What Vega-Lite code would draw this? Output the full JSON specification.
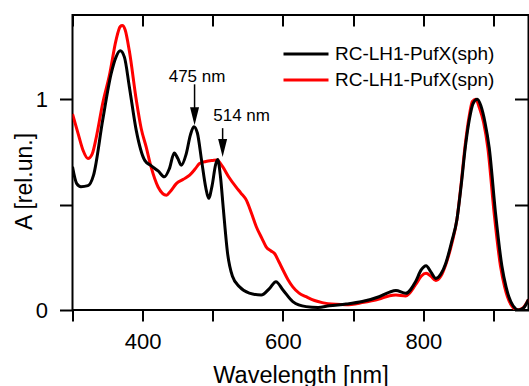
{
  "$schema": "https://vega.github.io/schema/vega-lite/v6.json",
  "width": 456,
  "height": 295,
  "autosize": {"type": "none"},
  "padding": {"left": 72.5, "top": 15, "right": 0.5, "bottom": 76},
  "background": "white",
  "config": {
    "view": {"stroke": "black", "strokeWidth": 2},
    "font": "Liberation Sans"
  },
  "datasets": {
    "spectra": [
      {"series": "RC-LH1-PufX(spn)", "wl": 300, "A": 0.93},
      {"series": "RC-LH1-PufX(spn)", "wl": 308, "A": 0.837},
      {"series": "RC-LH1-PufX(spn)", "wl": 315, "A": 0.758},
      {"series": "RC-LH1-PufX(spn)", "wl": 322, "A": 0.719},
      {"series": "RC-LH1-PufX(spn)", "wl": 328, "A": 0.74},
      {"series": "RC-LH1-PufX(spn)", "wl": 334, "A": 0.821},
      {"series": "RC-LH1-PufX(spn)", "wl": 343, "A": 0.98},
      {"series": "RC-LH1-PufX(spn)", "wl": 353, "A": 1.12},
      {"series": "RC-LH1-PufX(spn)", "wl": 362, "A": 1.28},
      {"series": "RC-LH1-PufX(spn)", "wl": 368, "A": 1.345},
      {"series": "RC-LH1-PufX(spn)", "wl": 371, "A": 1.35},
      {"series": "RC-LH1-PufX(spn)", "wl": 375, "A": 1.33},
      {"series": "RC-LH1-PufX(spn)", "wl": 381, "A": 1.23},
      {"series": "RC-LH1-PufX(spn)", "wl": 391, "A": 0.995},
      {"series": "RC-LH1-PufX(spn)", "wl": 398, "A": 0.86},
      {"series": "RC-LH1-PufX(spn)", "wl": 405, "A": 0.774},
      {"series": "RC-LH1-PufX(spn)", "wl": 412, "A": 0.679},
      {"series": "RC-LH1-PufX(spn)", "wl": 422, "A": 0.584},
      {"series": "RC-LH1-PufX(spn)", "wl": 434, "A": 0.545},
      {"series": "RC-LH1-PufX(spn)", "wl": 440, "A": 0.565},
      {"series": "RC-LH1-PufX(spn)", "wl": 448, "A": 0.6},
      {"series": "RC-LH1-PufX(spn)", "wl": 458, "A": 0.62},
      {"series": "RC-LH1-PufX(spn)", "wl": 467, "A": 0.64},
      {"series": "RC-LH1-PufX(spn)", "wl": 475, "A": 0.67},
      {"series": "RC-LH1-PufX(spn)", "wl": 481, "A": 0.695},
      {"series": "RC-LH1-PufX(spn)", "wl": 490, "A": 0.705},
      {"series": "RC-LH1-PufX(spn)", "wl": 500, "A": 0.71},
      {"series": "RC-LH1-PufX(spn)", "wl": 506, "A": 0.712},
      {"series": "RC-LH1-PufX(spn)", "wl": 514, "A": 0.68},
      {"series": "RC-LH1-PufX(spn)", "wl": 523, "A": 0.63},
      {"series": "RC-LH1-PufX(spn)", "wl": 533, "A": 0.584},
      {"series": "RC-LH1-PufX(spn)", "wl": 540, "A": 0.555},
      {"series": "RC-LH1-PufX(spn)", "wl": 548, "A": 0.52},
      {"series": "RC-LH1-PufX(spn)", "wl": 555, "A": 0.46},
      {"series": "RC-LH1-PufX(spn)", "wl": 562, "A": 0.395},
      {"series": "RC-LH1-PufX(spn)", "wl": 570, "A": 0.34},
      {"series": "RC-LH1-PufX(spn)", "wl": 576, "A": 0.3},
      {"series": "RC-LH1-PufX(spn)", "wl": 583, "A": 0.28},
      {"series": "RC-LH1-PufX(spn)", "wl": 588, "A": 0.268},
      {"series": "RC-LH1-PufX(spn)", "wl": 594, "A": 0.23},
      {"series": "RC-LH1-PufX(spn)", "wl": 600, "A": 0.19},
      {"series": "RC-LH1-PufX(spn)", "wl": 607, "A": 0.145},
      {"series": "RC-LH1-PufX(spn)", "wl": 614, "A": 0.11},
      {"series": "RC-LH1-PufX(spn)", "wl": 623, "A": 0.08},
      {"series": "RC-LH1-PufX(spn)", "wl": 633, "A": 0.063},
      {"series": "RC-LH1-PufX(spn)", "wl": 645, "A": 0.045},
      {"series": "RC-LH1-PufX(spn)", "wl": 656, "A": 0.035},
      {"series": "RC-LH1-PufX(spn)", "wl": 675, "A": 0.027},
      {"series": "RC-LH1-PufX(spn)", "wl": 690, "A": 0.025},
      {"series": "RC-LH1-PufX(spn)", "wl": 713, "A": 0.035},
      {"series": "RC-LH1-PufX(spn)", "wl": 737, "A": 0.052},
      {"series": "RC-LH1-PufX(spn)", "wl": 752, "A": 0.068},
      {"series": "RC-LH1-PufX(spn)", "wl": 761, "A": 0.071},
      {"series": "RC-LH1-PufX(spn)", "wl": 775, "A": 0.067},
      {"series": "RC-LH1-PufX(spn)", "wl": 789, "A": 0.12},
      {"series": "RC-LH1-PufX(spn)", "wl": 797, "A": 0.16},
      {"series": "RC-LH1-PufX(spn)", "wl": 804, "A": 0.174},
      {"series": "RC-LH1-PufX(spn)", "wl": 811, "A": 0.16},
      {"series": "RC-LH1-PufX(spn)", "wl": 818, "A": 0.14},
      {"series": "RC-LH1-PufX(spn)", "wl": 825, "A": 0.16},
      {"series": "RC-LH1-PufX(spn)", "wl": 832, "A": 0.215},
      {"series": "RC-LH1-PufX(spn)", "wl": 841, "A": 0.32},
      {"series": "RC-LH1-PufX(spn)", "wl": 848, "A": 0.43},
      {"series": "RC-LH1-PufX(spn)", "wl": 854, "A": 0.6},
      {"series": "RC-LH1-PufX(spn)", "wl": 860, "A": 0.79},
      {"series": "RC-LH1-PufX(spn)", "wl": 866, "A": 0.93},
      {"series": "RC-LH1-PufX(spn)", "wl": 870, "A": 0.99},
      {"series": "RC-LH1-PufX(spn)", "wl": 875, "A": 1.0},
      {"series": "RC-LH1-PufX(spn)", "wl": 880, "A": 0.96},
      {"series": "RC-LH1-PufX(spn)", "wl": 886, "A": 0.89},
      {"series": "RC-LH1-PufX(spn)", "wl": 892, "A": 0.77},
      {"series": "RC-LH1-PufX(spn)", "wl": 901, "A": 0.46},
      {"series": "RC-LH1-PufX(spn)", "wl": 910, "A": 0.21},
      {"series": "RC-LH1-PufX(spn)", "wl": 916, "A": 0.11},
      {"series": "RC-LH1-PufX(spn)", "wl": 920, "A": 0.063},
      {"series": "RC-LH1-PufX(spn)", "wl": 926, "A": 0.02},
      {"series": "RC-LH1-PufX(spn)", "wl": 934, "A": 0.0},
      {"series": "RC-LH1-PufX(spn)", "wl": 942, "A": 0.01},
      {"series": "RC-LH1-PufX(spn)", "wl": 950, "A": 0.05},
      {"series": "RC-LH1-PufX(sph)", "wl": 300, "A": 0.68},
      {"series": "RC-LH1-PufX(sph)", "wl": 306, "A": 0.6},
      {"series": "RC-LH1-PufX(sph)", "wl": 312, "A": 0.585},
      {"series": "RC-LH1-PufX(sph)", "wl": 322, "A": 0.59},
      {"series": "RC-LH1-PufX(sph)", "wl": 330, "A": 0.64},
      {"series": "RC-LH1-PufX(sph)", "wl": 343, "A": 0.9},
      {"series": "RC-LH1-PufX(sph)", "wl": 355, "A": 1.12},
      {"series": "RC-LH1-PufX(sph)", "wl": 362, "A": 1.2},
      {"series": "RC-LH1-PufX(sph)", "wl": 368, "A": 1.23},
      {"series": "RC-LH1-PufX(sph)", "wl": 374, "A": 1.2},
      {"series": "RC-LH1-PufX(sph)", "wl": 381, "A": 1.06},
      {"series": "RC-LH1-PufX(sph)", "wl": 391, "A": 0.85},
      {"series": "RC-LH1-PufX(sph)", "wl": 403, "A": 0.71},
      {"series": "RC-LH1-PufX(sph)", "wl": 412, "A": 0.685},
      {"series": "RC-LH1-PufX(sph)", "wl": 422, "A": 0.66},
      {"series": "RC-LH1-PufX(sph)", "wl": 431, "A": 0.632},
      {"series": "RC-LH1-PufX(sph)", "wl": 438, "A": 0.67},
      {"series": "RC-LH1-PufX(sph)", "wl": 445, "A": 0.745},
      {"series": "RC-LH1-PufX(sph)", "wl": 450, "A": 0.72},
      {"series": "RC-LH1-PufX(sph)", "wl": 455, "A": 0.687},
      {"series": "RC-LH1-PufX(sph)", "wl": 462, "A": 0.74},
      {"series": "RC-LH1-PufX(sph)", "wl": 468, "A": 0.83},
      {"series": "RC-LH1-PufX(sph)", "wl": 473, "A": 0.87},
      {"series": "RC-LH1-PufX(sph)", "wl": 478, "A": 0.84},
      {"series": "RC-LH1-PufX(sph)", "wl": 484, "A": 0.71},
      {"series": "RC-LH1-PufX(sph)", "wl": 490, "A": 0.58},
      {"series": "RC-LH1-PufX(sph)", "wl": 494, "A": 0.53},
      {"series": "RC-LH1-PufX(sph)", "wl": 499, "A": 0.59},
      {"series": "RC-LH1-PufX(sph)", "wl": 504, "A": 0.69},
      {"series": "RC-LH1-PufX(sph)", "wl": 507, "A": 0.714},
      {"series": "RC-LH1-PufX(sph)", "wl": 511, "A": 0.63},
      {"series": "RC-LH1-PufX(sph)", "wl": 515, "A": 0.48},
      {"series": "RC-LH1-PufX(sph)", "wl": 521, "A": 0.27},
      {"series": "RC-LH1-PufX(sph)", "wl": 528, "A": 0.16},
      {"series": "RC-LH1-PufX(sph)", "wl": 538, "A": 0.11},
      {"series": "RC-LH1-PufX(sph)", "wl": 552, "A": 0.08},
      {"series": "RC-LH1-PufX(sph)", "wl": 569, "A": 0.071},
      {"series": "RC-LH1-PufX(sph)", "wl": 581, "A": 0.103},
      {"series": "RC-LH1-PufX(sph)", "wl": 590, "A": 0.134},
      {"series": "RC-LH1-PufX(sph)", "wl": 600, "A": 0.095},
      {"series": "RC-LH1-PufX(sph)", "wl": 614, "A": 0.04},
      {"series": "RC-LH1-PufX(sph)", "wl": 633, "A": 0.016},
      {"series": "RC-LH1-PufX(sph)", "wl": 650, "A": 0.012},
      {"series": "RC-LH1-PufX(sph)", "wl": 666, "A": 0.02},
      {"series": "RC-LH1-PufX(sph)", "wl": 690, "A": 0.028},
      {"series": "RC-LH1-PufX(sph)", "wl": 713, "A": 0.04},
      {"series": "RC-LH1-PufX(sph)", "wl": 737, "A": 0.063},
      {"series": "RC-LH1-PufX(sph)", "wl": 752, "A": 0.085},
      {"series": "RC-LH1-PufX(sph)", "wl": 761, "A": 0.092},
      {"series": "RC-LH1-PufX(sph)", "wl": 775, "A": 0.079},
      {"series": "RC-LH1-PufX(sph)", "wl": 789, "A": 0.134},
      {"series": "RC-LH1-PufX(sph)", "wl": 797, "A": 0.19},
      {"series": "RC-LH1-PufX(sph)", "wl": 804, "A": 0.21},
      {"series": "RC-LH1-PufX(sph)", "wl": 811, "A": 0.18},
      {"series": "RC-LH1-PufX(sph)", "wl": 818, "A": 0.15},
      {"series": "RC-LH1-PufX(sph)", "wl": 825, "A": 0.17},
      {"series": "RC-LH1-PufX(sph)", "wl": 832, "A": 0.221},
      {"series": "RC-LH1-PufX(sph)", "wl": 841, "A": 0.33},
      {"series": "RC-LH1-PufX(sph)", "wl": 848, "A": 0.43},
      {"series": "RC-LH1-PufX(sph)", "wl": 854, "A": 0.59},
      {"series": "RC-LH1-PufX(sph)", "wl": 860, "A": 0.774},
      {"series": "RC-LH1-PufX(sph)", "wl": 866, "A": 0.91},
      {"series": "RC-LH1-PufX(sph)", "wl": 871, "A": 0.98},
      {"series": "RC-LH1-PufX(sph)", "wl": 877, "A": 1.0},
      {"series": "RC-LH1-PufX(sph)", "wl": 882, "A": 0.97},
      {"series": "RC-LH1-PufX(sph)", "wl": 888, "A": 0.89},
      {"series": "RC-LH1-PufX(sph)", "wl": 894, "A": 0.77},
      {"series": "RC-LH1-PufX(sph)", "wl": 903, "A": 0.46},
      {"series": "RC-LH1-PufX(sph)", "wl": 912, "A": 0.21},
      {"series": "RC-LH1-PufX(sph)", "wl": 918, "A": 0.11},
      {"series": "RC-LH1-PufX(sph)", "wl": 922, "A": 0.063},
      {"series": "RC-LH1-PufX(sph)", "wl": 928, "A": 0.02},
      {"series": "RC-LH1-PufX(sph)", "wl": 936, "A": 0.0},
      {"series": "RC-LH1-PufX(sph)", "wl": 943, "A": 0.01},
      {"series": "RC-LH1-PufX(sph)", "wl": 950, "A": 0.05}
    ],
    "arrows": [
      {"label": "475 nm", "wl": 474, "from": 1.071, "to": 0.9, "head": 0.919},
      {"label": "514 nm", "wl": 514, "from": 0.863, "to": 0.79, "head": 0.769}
    ],
    "labels": [
      {"label": "475 nm", "wl": 477.5, "A": 1.082},
      {"label": "514 nm", "wl": 541, "A": 0.897}
    ]
  },
  "layer": [
    {
      "data": {"name": "spectra"},
      "transform": [{"filter": "datum.series == 'RC-LH1-PufX(spn)'"}],
      "mark": {"type": "line", "strokeWidth": 3, "interpolate": "monotone", "clip": true},
      "encoding": {
        "x": {
          "field": "wl", "type": "quantitative",
          "scale": {"domain": [300, 950], "nice": false, "zero": false},
          "axis": {
            "orient": "top",
            "values": [300, 400, 500, 600, 700, 800, 900],
            "tickSize": -11,
            "labels": false,
            "title": null,
            "tickColor": "black",
            "tickWidth": 2,
            "domain": false,
            "grid": false
          }
        },
        "y": {
          "field": "A", "type": "quantitative",
          "scale": {"domain": [0, 1.4], "nice": false},
          "axis": {
            "orient": "right",
            "values": [0, 0.5, 1],
            "tickSize": -14,
            "labels": false,
            "title": null,
            "tickColor": "black",
            "tickWidth": 2,
            "domain": false,
            "grid": false
          }
        },
        "color": {
          "field": "series", "type": "nominal",
          "scale": {"domain": ["RC-LH1-PufX(sph)", "RC-LH1-PufX(spn)"], "range": ["#000000", "#ff0000"]},
          "legend": {
            "orient": "none",
            "legendX": 224,
            "legendY": 29.5,
            "title": null,
            "symbolType": "M-3,0H3",
            "symbolSize": 225,
            "symbolStrokeWidth": 3,
            "labelFontSize": 19,
            "labelFont": "Liberation Sans",
            "labelColor": "black",
            "labelOffset": 19.5,
            "rowPadding": 6,
            "padding": 0
          }
        }
      }
    },
    {
      "data": {"name": "spectra"},
      "transform": [{"filter": "datum.series == 'RC-LH1-PufX(sph)'"}],
      "mark": {"type": "line", "strokeWidth": 3, "interpolate": "monotone", "clip": true},
      "encoding": {
        "x": {
          "field": "wl", "type": "quantitative",
          "scale": {"domain": [300, 950], "nice": false, "zero": false},
          "axis": {
            "orient": "bottom",
            "values": [300, 400, 500, 600, 700, 800, 900],
            "labelExpr": "datum.value % 200 == 0 ? format(datum.value, 'd') : ''",
            "tickSize": 11,
            "tickColor": "black",
            "tickWidth": 2,
            "domain": false,
            "grid": false,
            "labelFont": "Liberation Sans",
            "labelColor": "black",
            "labelFontSize": 22,
            "labelPadding": 10,
            "title": "Wavelength [nm]",
            "titleFont": "Liberation Sans",
            "titleFontWeight": "normal",
            "titleColor": "black",
            "titleFontSize": 23.5,
            "titleY": 72,
            "titleBaseline": "alphabetic"
          }
        },
        "y": {
          "field": "A", "type": "quantitative",
          "scale": {"domain": [0, 1.4], "nice": false},
          "axis": {
            "orient": "left",
            "values": [0, 0.5, 1],
            "labelExpr": "datum.value == 0.5 ? '' : format(datum.value, 'd')",
            "tickSize": 13,
            "tickColor": "black",
            "tickWidth": 2,
            "domain": false,
            "grid": false,
            "labelFont": "Liberation Sans",
            "labelColor": "black",
            "labelFontSize": 22,
            "labelPadding": 12,
            "title": "A [rel.un.]",
            "titleFont": "Liberation Sans",
            "titleFontWeight": "normal",
            "titleColor": "black",
            "titleFontSize": 23,
            "titleX": -41,
            "titleY": 166,
            "titleAngle": 270,
            "titleAlign": "center",
            "titleBaseline": "alphabetic"
          }
        },
        "color": {"field": "series", "type": "nominal"}
      }
    },
    {
      "data": {"name": "arrows"},
      "mark": {"type": "rule", "color": "black", "strokeWidth": 1.5},
      "encoding": {
        "x": {"field": "wl", "type": "quantitative", "scale": {"domain": [300, 950], "nice": false, "zero": false}, "axis": null},
        "y": {"field": "from", "type": "quantitative", "scale": {"domain": [0, 1.4], "nice": false}, "axis": null},
        "y2": {"field": "to"}
      }
    },
    {
      "data": {"name": "arrows"},
      "mark": {"type": "point", "shape": "M-0.5,-1L0.5,-1L0,1Z", "filled": true, "color": "black", "opacity": 1, "size": 324, "strokeWidth": 0},
      "encoding": {
        "x": {"field": "wl", "type": "quantitative", "scale": {"domain": [300, 950], "nice": false, "zero": false}, "axis": null},
        "y": {"field": "head", "type": "quantitative", "scale": {"domain": [0, 1.4], "nice": false}, "axis": null}
      }
    },
    {
      "data": {"name": "labels"},
      "mark": {"type": "text", "fontSize": 17, "font": "Liberation Sans", "align": "center", "baseline": "alphabetic", "color": "black"},
      "encoding": {
        "x": {"field": "wl", "type": "quantitative", "scale": {"domain": [300, 950], "nice": false, "zero": false}, "axis": null},
        "y": {"field": "A", "type": "quantitative", "scale": {"domain": [0, 1.4], "nice": false}, "axis": null},
        "text": {"field": "label"}
      }
    }
  ],
  "resolve": {"axis": {"x": "independent", "y": "independent"}}
}
